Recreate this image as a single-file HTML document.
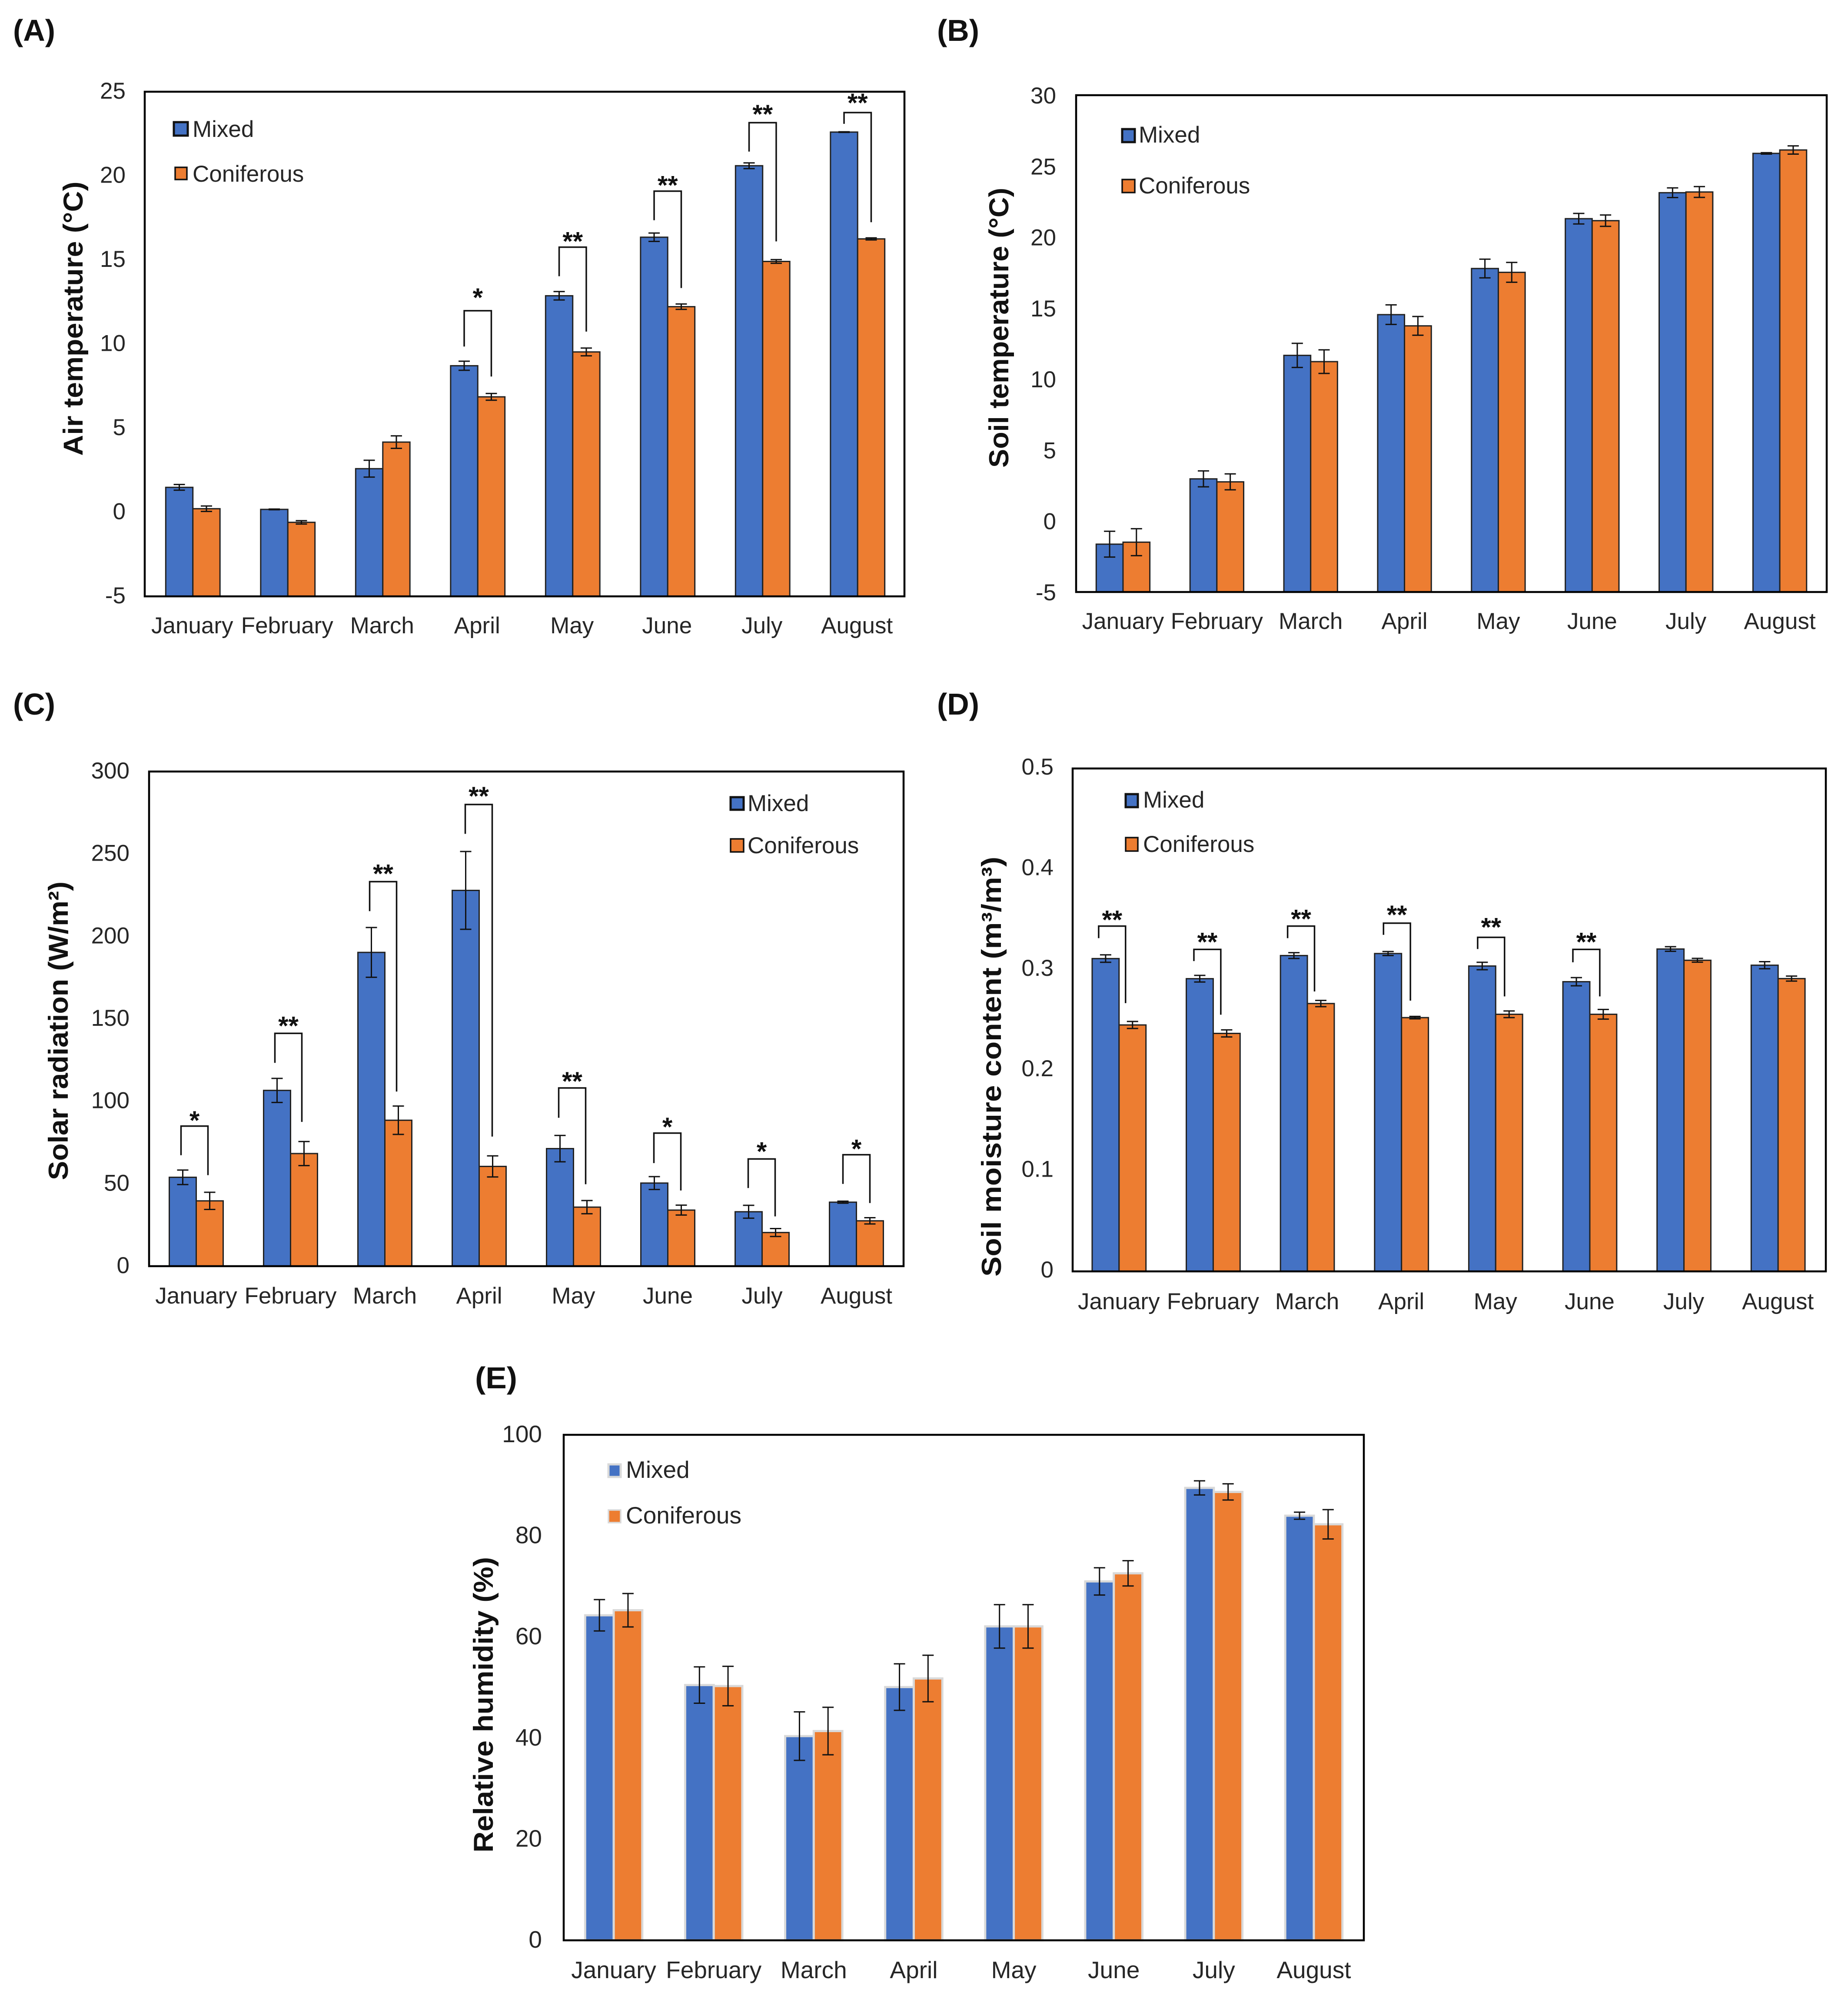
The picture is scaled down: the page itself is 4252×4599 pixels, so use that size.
<!DOCTYPE html>
<html lang="en">
<head>
<meta charset="utf-8">
<title>Forest microclimate charts</title>
<style>
html,body{margin:0;padding:0;background:#fff;}
svg{display:block;font-family:"Liberation Sans",Arial,sans-serif;}
</style>
</head>
<body>
<svg id="figure" xmlns="http://www.w3.org/2000/svg" width="4252" height="4599" viewBox="0 0 4252 4599"></svg>
<script>
const categories = ['January','February','March','April','May','June','July','August'];
const legendLabels = ['Mixed','Coniferous'];

const airTicks = [-5,0,5,10,15,20,25];
const airMixed = [1.48,0.17,2.59,8.71,12.87,16.35,20.6,22.6];
const airConif = [0.21,-0.6,4.17,6.86,9.53,12.22,14.91,16.25];
const airMixedErr = [0.17,0.02,0.5,0.27,0.25,0.25,0.17,0.02];
const airConifErr = [0.16,0.1,0.37,0.2,0.23,0.16,0.11,0.06];
const airSig = [null,null,null,'*','**','**','**','**'];
const airBracketTop = [null,null,null,11.98,15.76,19.09,23.16,23.76];
const airBracketLeft = [null,null,null,9.85,14.03,17.36,21.44,23.09];
const airBracketRight = [null,null,null,8.07,10.74,13.33,16.1,17.24];

const soilTempTicks = [-5,0,5,10,15,20,25,30];
const soilTempMixed = [-1.63,2.97,11.67,14.54,17.79,21.3,23.13,25.9];
const soilTempConif = [-1.49,2.76,11.23,13.75,17.52,21.16,23.18,26.14];
const soilTempMixedErr = [0.91,0.56,0.85,0.69,0.66,0.37,0.34,0.05];
const soilTempConifErr = [0.95,0.56,0.83,0.66,0.7,0.4,0.38,0.29];

const solarTicks = [0,50,100,150,200,250,300];
const solarMixed = [53.9,106.6,190.3,227.9,71.3,50.4,33,38.8];
const solarConif = [39.6,68.3,88.5,60.5,35.8,34,20.4,27.5];
const solarMixedErr = [4.4,7.3,15.1,23.6,8,3.9,3.9,0.6];
const solarConifErr = [5.2,7.3,8.6,6.4,4,3,2.4,1.9];
const solarSig = ['*','**','**','**','**','*','*','*'];
const solarBracketTop = [84.95,141.2,233.2,280,108.1,80.7,65,67.6];
const solarBracketLeft = [67.3,123.3,215.3,262.2,90,62.5,47.4,49.9];
const solarBracketRight = [55.2,87.5,105.9,78.6,49.7,45.9,30.2,38.3];

const moistureTicks = ['0','0.1','0.2','0.3','0.4','0.5'];
const moistureMixed = [0.311,0.291,0.314,0.316,0.3036,0.288,0.3205,0.3044];
const moistureConif = [0.245,0.2366,0.2663,0.2523,0.2556,0.2556,0.3093,0.2911];
const moistureMixedErr = [0.0037,0.0033,0.0029,0.002,0.0037,0.0041,0.0023,0.0035];
const moistureConifErr = [0.0035,0.0035,0.0031,0.0012,0.0033,0.0048,0.0019,0.0025];
const moistureSig = ['**','**','**','**','**','**',null,null];
const moistureBracketTop = [0.3433,0.3201,0.3433,0.3462,0.3321,0.3201,null,null];
const moistureBracketLeft = [0.3313,0.3085,0.3313,0.3346,0.3205,0.3073,null,null];
const moistureBracketRight = [0.2667,0.2552,0.2783,0.2692,0.2734,0.2734,null,null];

const humidityTicks = [0,20,40,60,80,100];
const humidityMixed = [64.3,50.5,40.4,50.1,62.1,71,89.5,84];
const humidityConif = [65.3,50.3,41.4,51.8,62.1,72.6,88.7,82.3];
const humidityMixedErr = [3.1,3.6,4.8,4.6,4.3,2.7,1.4,0.7];
const humidityConifErr = [3.3,3.9,4.7,4.6,4.3,2.5,1.6,2.9];

const BLUE = '#4472C4', ORANGE = '#ED7D31', INK = '#262626';
const SVGNS = 'http://www.w3.org/2000/svg';
const root = document.getElementById('figure');

function mk(parent, tag, attrs, text){
  const el = document.createElementNS(SVGNS, tag);
  for (const k in attrs) el.setAttribute(k, attrs[k]);
  if (text !== undefined) el.textContent = text;
  parent.appendChild(el);
  return el;
}

const panels = [
  {id:'a', tag:'(A)', tagX:30, tagY:94, box:[333,211,2081,1372], ticks:airTicks, mixed:airMixed, conif:airConif, mixedErr:airMixedErr, conifErr:airConifErr,
   sig:airSig, top:airBracketTop, left:airBracketLeft, right:airBracketRight, title:'Air temperature (°C)', titleX:190, titleMid:733, titleLen:631,
   tickRight:289, tickDrop:16, catDrop:85, catDx:0, fs:53, barDx:1.5, brDx:[0,0,0,0,0,0,0,0], lift:[0,0,0,37,20,20,26,29],
   swX:[400,403], swW:[32,27], swY:[281,385], swH:[31,28], legX:443, legY:[315,418], edge:'#222', edgeW:3},
  {id:'b', tag:'(B)', tagX:2156, tagY:94, box:[2476,219,4203,1362], ticks:soilTempTicks, mixed:soilTempMixed, conif:soilTempConif, mixedErr:soilTempMixedErr, conifErr:soilTempConifErr,
   sig:null, title:'Soil temperature (°C)', titleX:2320, titleMid:754, titleLen:644,
   tickRight:2430, tickDrop:19, catDrop:85, catDx:0, fs:53, barDx:0,
   swX:[2582,2582], swW:[29,29], swY:[297,413], swH:[30,30], legX:2620, legY:[328,445], edge:'#222', edgeW:3},
  {id:'c', tag:'(C)', tagX:30, tagY:1644, box:[343,1775,2079,2913], ticks:solarTicks, mixed:solarMixed, conif:solarConif, mixedErr:solarMixedErr, conifErr:solarConifErr,
   sig:solarSig, top:solarBracketTop, left:solarBracketLeft, right:solarBracketRight, title:'Solar radiation (W/m²)', titleX:156, titleMid:2371.5, titleLen:687,
   tickRight:298, tickDrop:16, catDrop:86, catDx:0, fs:53, barDx:0, brDx:[-4,-5,-4,-1,-3,-1,-1,0], lift:[20,24,25,26,22,21,24,20],
   swX:[1681,1681], swW:[30,30], swY:[1834,1930], swH:[29,30], legX:1720, legY:[1866,1963], edge:'#222', edgeW:3},
  {id:'d', tag:'(D)', tagX:2156, tagY:1644, box:[2468,1768,4201,2925], ticks:moistureTicks, mixed:moistureMixed, conif:moistureConif, mixedErr:moistureMixedErr, conifErr:moistureConifErr,
   sig:moistureSig, top:moistureBracketTop, left:moistureBracketLeft, right:moistureBracketRight, title:'Soil moisture content (m³/m³)', titleX:2303, titleMid:2454, titleLen:966,
   tickRight:2424, tickDrop:14, catDrop:87, catDx:-2, fs:53, barDx:-1.5, brDx:[-16,-13.5,-14.5,-10.5,-10.5,-8,0,0], lift:[21,24,23,26,30,24,0,0],
   swX:[2590,2590], swW:[28,28], swY:[1827,1927], swH:[30,31], legX:2630, legY:[1858,1960], edge:'#222', edgeW:3},
  {id:'e', tag:'(E)', tagX:1093, tagY:3194, box:[1297,3301,3138,4464], ticks:humidityTicks, mixed:humidityMixed, conif:humidityConif, mixedErr:humidityMixedErr, conifErr:humidityConifErr,
   sig:null, title:'Relative humidity (%)', titleX:1134, titleMid:3922, titleLen:680,
   tickRight:1247, tickDrop:17, catDrop:87, catDx:0, fs:55, barDx:0,
   swX:[1400,1400], swW:[28,28], swY:[3369,3474], swH:[29,29], legX:1440, legY:[3400,3505], edge:'#d9d9d9', edgeW:5}
];

panels.forEach(function(p){
  const L = p.box[0], T = p.box[1], R = p.box[2], B = p.box[3];
  const tickVals = p.ticks.map(Number);
  const vMin = tickVals[0], vMax = tickVals[tickVals.length - 1];
  const band = (R - L) / categories.length;
  const barW = band / 3.5;
  const yScale = function(v){ return B - (v - vMin) / (vMax - vMin) * (B - T); };
  const xCenter = function(i){ return L + (i + 0.5) * band + p.barDx; };

  const g = mk(root, 'g', {});
  
  

  const tagEl = mk(g, 'text', {x:p.tagX, y:p.tagY, 'font-size':70, 'font-weight':'bold', fill:'#111', textLength:97, lengthAdjust:'spacingAndGlyphs'}, p.tag);
  
  

  categories.forEach(function(name, i){
    const c = xCenter(i);
    [[p.mixed[i], c - barW, BLUE, 'mixed'], [p.conif[i], c, ORANGE, 'coniferous']].forEach(function(s){
      const y = yScale(s[0]);
      const bar = mk(g, 'rect', {x:s[1], y:y, width:barW, height:B - y, fill:s[2], stroke:p.edge, 'stroke-width':p.edgeW});
      
      
    });
  });

  const frame = mk(g, 'rect', {x:L, y:T, width:R - L, height:B - T, fill:'none', stroke:'#000', 'stroke-width':4.5});
  
  

  categories.forEach(function(name, i){
    const c = xCenter(i);
    [[p.mixed[i], p.mixedErr[i], c - barW / 2, 'mixed'], [p.conif[i], p.conifErr[i], c + barW / 2, 'coniferous']].forEach(function(s){
      const y1 = yScale(s[0] + s[1]), y2 = yScale(s[0] - s[1]), x = s[2];
      const eb = mk(g, 'path', {d:'M' + (x - 13) + ' ' + y1 + 'H' + (x + 13) + 'M' + x + ' ' + y1 + 'V' + y2 + 'M' + (x - 13) + ' ' + y2 + 'H' + (x + 13), fill:'none', stroke:'#111', 'stroke-width':3});
      
      
    });
    if (p.sig && p.sig[i]) {
      const xl = c - barW / 2 + p.brDx[i], xr = c + barW / 2 + p.brDx[i];
      const top = yScale(p.top[i]), lb = yScale(p.left[i]), rb = yScale(p.right[i]);
      const br = mk(g, 'path', {d:'M' + xl + ' ' + lb + 'V' + top + 'H' + xr + 'V' + rb, fill:'none', stroke:'#111', 'stroke-width':3.5});
      
      
      const st = mk(g, 'text', {x:c + p.brDx[i], y:top - p.lift[i] + 27, 'font-size':60, 'font-weight':'bold', 'text-anchor':'middle', fill:'#111'}, p.sig[i]);
      
      
    }
    const cat = mk(g, 'text', {x:c + p.catDx - p.barDx, y:B + p.catDrop, 'font-size':p.fs, 'text-anchor':'middle', fill:INK}, name);
    
    
  });

  p.ticks.forEach(function(t){
    const tl = mk(g, 'text', {x:p.tickRight, y:yScale(Number(t)) + p.tickDrop, 'font-size':p.fs, 'text-anchor':'end', fill:INK}, String(t));
    
    
  });

  const title = mk(g, 'text', {transform:'translate(' + p.titleX + ' ' + p.titleMid + ') rotate(-90)', x:0, y:0, 'font-size':63, 'font-weight':'bold', 'text-anchor':'middle', fill:'#111', textLength:p.titleLen, lengthAdjust:'spacingAndGlyphs'}, p.title);
  
  

  [BLUE, ORANGE].forEach(function(col, k){
    const sw = mk(g, 'rect', {x:p.swX[k], y:p.swY[k], width:p.swW[k], height:p.swH[k], fill:col, stroke:p.edge === '#d9d9d9' ? '#d9d9d9' : '#111', 'stroke-width':k === 0 ? 5 : 3.5});
    
    
    const lt = mk(g, 'text', {x:p.legX, y:p.legY[k], 'font-size':p.fs, fill:INK}, legendLabels[k]);
    
    
  });
});
</script>
</body>
</html>
